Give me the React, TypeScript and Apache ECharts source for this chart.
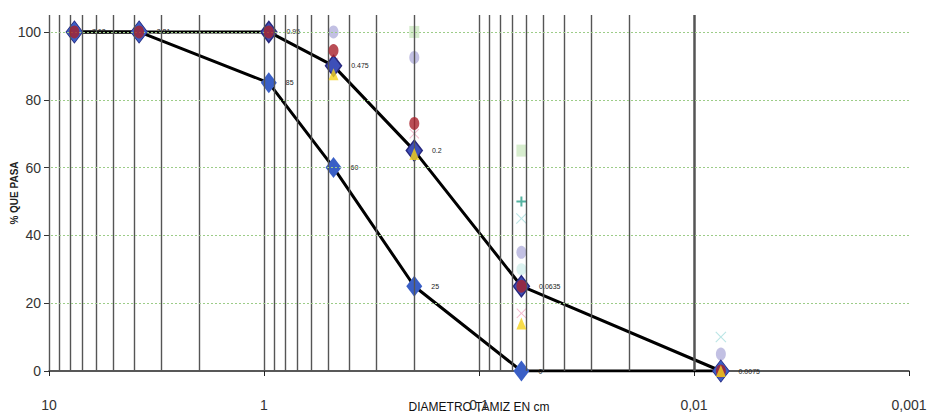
import React, { useEffect, useRef } from "react";
import * as echarts from "echarts";

const sieves = [7.62, 3.81, 0.95, 0.475, 0.2, 0.0635, 0.0075];
const upperCurve = [100, 100, 100, 90, 65, 25, 0];
const lowerCurve = [100, 100, 85, 60, 25, 0, 0];
const lowerLabelled = [false, false, true, true, true, true, false];
const sampleRed = [100, 100, 100, 94.5, 73, 25, 0];
const sampleLavender = [100, 100, 100, 100, 92.5, 35, 5];
const sampleGreen = [null, null, null, null, 100, 65, null];
const samplePlus = [null, null, null, null, null, 50, null];
const sampleCross = [null, null, null, null, null, 45, 10];
const samplePink = [null, null, null, 91, 70, 17, 0];
const sampleYellow = [null, null, null, 87.5, 64, 14, 0];
const sampleCyan = [null, null, null, null, null, 30, null];
const yTicks = [0, 20, 40, 60, 80, 100];
const gridValues: number[] = [];
[0.001, 0.01, 0.1, 1].forEach((d) => {
  for (let k = 1; k <= 9; k++) gridValues.push(Number((d * k).toPrecision(3)));
});
gridValues.push(10);

const FONT = "Liberation Sans, Arial, sans-serif";

const pairs = (vals: (number | null)[]) =>
  sieves.map((s, i) => [s, vals[i]]).filter((p) => p[1] !== null);

const PLUS = "path://M4,0H6V4H10V6H6V10H4V6H0V4H4Z";
const CROSS =
  "path://M0.7,0L5,4.3L9.3,0L10,0.7L5.7,5L10,9.3L9.3,10L5,5.7L0.7,10L0,9.3L4.3,5L0,0.7Z";

const fmtX = (v: number) => String(Number(v.toPrecision(3))).replace(".", ",");

export default function App() {
  const ref = useRef<HTMLDivElement>(null);
  useEffect(() => {
    if (!ref.current) return;
    const chart = echarts.init(ref.current, undefined, { renderer: "svg" });
    const scatter = (
      name: string,
      vals: (number | null)[],
      symbol: string,
      size: number | number[],
      color: string,
      z = 3
    ) => ({
      name,
      type: "scatter",
      data: pairs(vals),
      symbol,
      symbolSize: size,
      itemStyle: { color },
      z,
    });
    const labelBase = {
      show: true,
      position: "right",
      distance: 9,
      fontFamily: FONT,
      fontSize: 7,
      color: "#222",
    };
    chart.setOption({
      animation: false,
      backgroundColor: "#ffffff",
      grid: {
        left: 49,
        right: 18,
        top: 15,
        bottom: 43,
        containLabel: false,
        outerBoundsMode: "none",
      },
      xAxis: {
        type: "log",
        logBase: 10,
        min: 0.001,
        max: 10,
        inverse: true,
        name: "DIAMETRO TAMIZ EN cm",
        nameLocation: "middle",
        nameGap: 30,
        nameMoveOverlap: false,
        nameTextStyle: { fontFamily: FONT, fontSize: 12, color: "#111" },
        axisLine: { show: true, lineStyle: { color: "#222", width: 1.5 } },
        axisTick: { show: true, length: 5, lineStyle: { color: "#222" } },
        axisLabel: {
          fontFamily: FONT,
          fontSize: 14,
          color: "#333",
          margin: 27,
          formatter: fmtX,
        },
        splitLine: { show: false },
        minorTick: { show: false },
      },
      yAxis: {
        type: "value",
        min: 0,
        max: 105,
        interval: 20,
        name: "% QUE PASA",
        nameLocation: "middle",
        nameGap: 30,
        nameMoveOverlap: false,
        nameTextStyle: {
          fontFamily: FONT,
          fontSize: 10,
          fontWeight: "bold",
          color: "#222",
        },
        axisLine: { show: false },
        axisTick: {
          show: true,
          length: 5,
          customValues: yTicks,
          lineStyle: { color: "#333" },
        },
        axisLabel: {
          fontFamily: FONT,
          fontSize: 14,
          color: "#333",
          customValues: yTicks,
          margin: 8,
        },
        splitLine: { show: false },
      },
      series: [
        {
          name: "grid",
          type: "line",
          data: [[10, 0]],
          symbol: "none",
          lineStyle: { opacity: 0 },
          silent: true,
          z: 1,
          markLine: {
            silent: true,
            symbol: "none",
            label: { show: false },
            data: [
              ...gridValues.map((v) => ({
                xAxis: v,
                lineStyle: { color: "#555", width: 1.4, type: "solid" },
              })),
              ...yTicks
                .filter((v) => v > 0)
                .map((v) => ({
                  yAxis: v,
                  lineStyle: { color: "#9ccc88", width: 1, type: [2, 2] },
                })),
            ],
          },
        },
        scatter("M2", sampleLavender, "circle", [10, 13], "#b3b0dc"),
        scatter("M3", sampleGreen, "rect", [10, 12], "#cde8c2"),
        scatter("M4", samplePlus, PLUS, 10, "#2aa08a"),
        scatter("M5", sampleCross, CROSS, 11, "#a9dede"),
        scatter("M8", sampleCyan, "circle", [10, 12], "#d2efec"),
        scatter("M6", samplePink, CROSS, 10, "#f2a7c0"),
        {
          name: "upper",
          type: "line",
          data: pairs(upperCurve),
          symbol: "diamond",
          symbolSize: [16, 21],
          lineStyle: { color: "#000", width: 3 },
          itemStyle: { color: "#3d4fb8", borderColor: "#27287e", borderWidth: 1.5 },
          label: {
            ...labelBase,
            formatter: (p: any) => String(p.value[0]),
          },
          z: 4,
        },
        {
          name: "lower",
          type: "line",
          data: sieves.map((s, i) => ({
            value: [s, lowerCurve[i]],
            label: { show: lowerLabelled[i] },
          })),
          symbol: "diamond",
          symbolSize: [16, 21],
          lineStyle: { color: "#000", width: 3 },
          itemStyle: { color: "#3a5fc6" },
          label: {
            ...labelBase,
            formatter: (p: any) => String(p.value[1]),
          },
          z: 4,
        },
        scatter("M1", sampleRed, "circle", [10, 13], "#a8202a", 5),
        scatter("M7", sampleYellow, "triangle", [10, 12], "#f5d21c", 5),
      ],
    });
    return () => chart.dispose();
  }, []);
  return (
    <div
      ref={ref}
      style={{ width: 927, height: 414, position: "absolute", left: 0, top: 0 }}
    />
  );
}
